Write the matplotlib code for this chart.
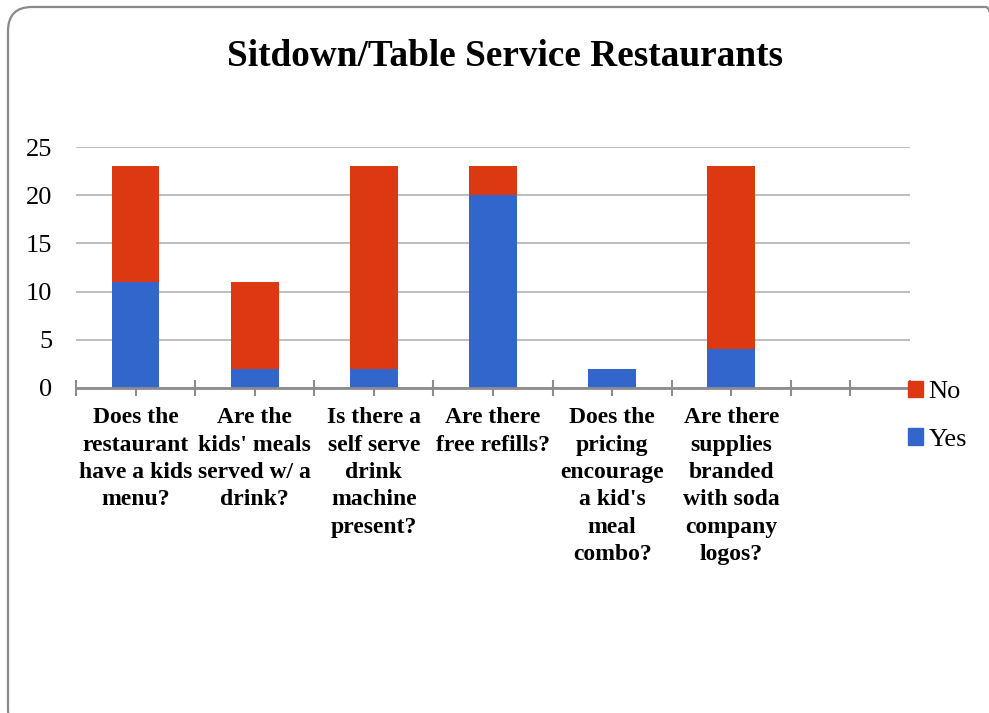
import matplotlib.pyplot as plt
from matplotlib.patches import FancyBboxPatch, Patch

questions = ["Does the\nrestaurant\nhave a kids\nmenu?",
             "Are the\nkids' meals\nserved w/ a\ndrink?",
             "Is there a\nself serve\ndrink\nmachine\npresent?",
             "Are there\nfree refills?",
             "Does the\npricing\nencourage\na kid's\nmeal\ncombo?",
             "Are there\nsupplies\nbranded\nwith soda\ncompany\nlogos?",
             ""]
yes = [11, 2, 2, 20, 2, 4, 0]
no = [12, 9, 21, 3, 0, 19, 0]

plt.rcParams['font.family'] = ['Liberation Serif', 'DejaVu Serif']

red = '#DC3912'
blue = '#3366CC'
axis_grey = '#8c8c8c'

fig = plt.figure(figsize=(9.89, 7.13), dpi=100)
ax = fig.add_axes([76/989, 1 - 388/713, 834/989, 241/713])

x = list(range(len(questions)))
ax.bar(x, yes, width=0.4, color=blue, zorder=3)
ax.bar(x, no, width=0.4, bottom=yes, color=red, zorder=3)

ax.set_xlim(-0.5, len(questions) - 0.5)
ax.set_ylim(0, 25)
ax.set_yticks([0, 5, 10, 15, 20, 25])
ax.tick_params(axis='y', length=0, pad=17, labelsize=19)
ax.yaxis.grid(True, color='#b8b8b8', linewidth=1.3, zorder=0)

# boundary ticks plus a tick under each bar
ax.set_xticks([i - 0.5 for i in range(len(questions) + 1)])
ax.set_xticks(x, minor=True)
ax.tick_params(axis='x', which='both', direction='inout', length=12,
               width=1.5, color=axis_grey, labelbottom=False)

for spine in ['top', 'right', 'left']:
    ax.spines[spine].set_visible(False)
ax.spines['bottom'].set_color(axis_grey)
ax.spines['bottom'].set_linewidth(2)
ax.spines['bottom'].set_zorder(4)

for i, q in enumerate(questions):
    ax.text(i, -2.0, q, ha='center', va='top', fontsize=17,
            fontweight='bold', linespacing=1.4)

fig.text(505/989, 1 - 57/713, "Sitdown/Table Service Restaurants",
         ha='center', va='center', fontsize=26.8, fontweight='bold')

handles = [Patch(color=red, label='No'), Patch(color=blue, label='Yes')]
fig.legend(handles=handles, loc='upper left',
           bbox_to_anchor=(897/989, 1 - 370/713), frameon=False,
           fontsize=19, handlelength=0.6, handleheight=0.6,
           handletextpad=0.2, labelspacing=0.95, borderaxespad=0)

# rounded outer frame, running off the right and bottom edges
frame = FancyBboxPatch((0.08, -0.2), 10.02, 7.26,
                       boxstyle='round,pad=0,rounding_size=0.24',
                       transform=fig.dpi_scale_trans, fill=False,
                       edgecolor='#8a8a8a', linewidth=1.6)
fig.patches.append(frame)

fig.savefig('out.png', dpi=100)
